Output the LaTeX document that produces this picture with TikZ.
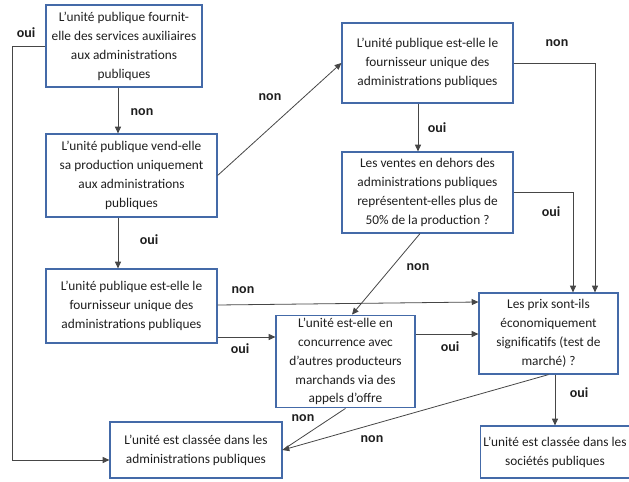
\documentclass[tikz,border=0pt]{standalone}
\usepackage{fontspec}
\setmainfont{Carlito}
\usetikzlibrary{arrows.meta,calc}

\definecolor{boxblue}{RGB}{68,106,168}
\definecolor{linegray}{RGB}{70,70,70}
\definecolor{textgray}{RGB}{30,30,30}

\tikzset{
  qbox/.style={draw=boxblue,line width=0.9pt,align=center,inner sep=2pt,
    text=textgray,font=\fontsize{10}{14.2}\selectfont},
  arr/.style={draw=linegray,line width=0.6pt,-{Triangle[length=5pt,width=4.5pt]}},
  conn/.style={draw=linegray,line width=0.6pt},
  lbl/.style={font=\fontsize{10.5}{12}\selectfont\bfseries,text=textgray,inner sep=0pt}
}

\begin{document}
\begin{tikzpicture}[x=0.75pt,y=-0.75pt]
  \useasboundingbox (0,0) rectangle (629,482);

  % boxes
  \node[qbox,minimum width=156*0.75pt,minimum height=82*0.75pt] (fournit) at (124,46)
    {L'unité publique fournit-\\elle des services auxiliaires\\aux administrations\\publiques};
  \node[qbox,minimum width=171*0.75pt,minimum height=83*0.75pt] (vend) at (131.5,175.5)
    {L'unité publique vend-elle\\sa production uniquement\\aux administrations\\publiques};
  \node[qbox,minimum width=171*0.75pt,minimum height=80*0.75pt] (fournA) at (427.5,63)
    {L'unité publique est-elle le\\fournisseur\ unique des\\administrations publiques};
  \node[qbox,minimum width=171*0.75pt,minimum height=81*0.75pt] (ventes) at (427.5,192.5)
    {Les ventes en dehors des\\administrations publiques\\représentent-elles\ plus de\\50\% de la production ?};
  \node[qbox,minimum width=171*0.75pt,minimum height=74*0.75pt] (fournB) at (131.5,306)
    {L'unité publique est-elle le\\fournisseur\ unique des\\administrations publiques};
  \node[qbox,minimum width=139*0.75pt,minimum height=87*0.75pt] (concur) at (345.5,361.5)
    {L'unité est-elle en\\concurrence avec\\d'autres producteurs\\marchands via des\\appels d'offre};
  \node[qbox,minimum width=139*0.75pt,minimum height=81*0.75pt] (prix) at (548.5,333.5)
    {Les prix sont-ils\\économiquement\\significatifs (test de\\marché) ?};
  \node[qbox,minimum width=172*0.75pt,minimum height=56*0.75pt] (admin) at (196,450)
    {L'unité est classée dans les\\administrations publiques};
  \node[qbox,minimum width=144*0.75pt,minimum height=52*0.75pt] (societes) at (555,452)
    {L'unité est classée dans les\\sociétés publiques};

  % rails
  \coordinate (colA) at (118,0);
  \coordinate (colC) at (418,0);
  \coordinate (railL) at (12,0);

  % connectors
  \draw[arr] (fournit.south -| colA) -- (vend.north -| colA);
  \draw[arr] (fournit.west) -- (fournit.west -| railL) |- ($(admin.west)+(0,10)$);
  \draw[arr] (vend.east) -- (fournA.west);
  \draw[arr] (vend.south -| colA) -- (fournB.north -| colA);
  \draw[arr] (fournA.south -| colC) -- (ventes.north -| colC);
  \draw[arr] (fournA.east) -| ($(prix.north)+(46.5,0)$);
  \draw[arr] (ventes.east) -| ($(prix.north)+(24.5,0)$);
  \draw[arr] ($(ventes.south)+(-7.5,0)$) -- ($(concur.north)+(6.5,0)$);
  \draw[arr] ($(fournB.east)+(0,-1)$) -- ($(prix.west)+(0,-31.5)$);
  \draw[arr] ($(fournB.east)+(0,31)$) coordinate (eoui) -- (eoui -| concur.west);
  \draw[arr] ($(concur.east)+(0,-27.5)$) coordinate (foui) -- (foui -| prix.west);
  \draw[conn] (concur.south) -- (admin.east);
  \draw[arr] (prix.south) -- (admin.east);
  \draw[arr] ($(prix.south)+(6.5,0)$) coordinate (goui) -- (goui |- societes.north);

  % labels
  \node[lbl] (l1) at (26,33) {oui};
  \node[lbl] (l2) at (142,112) {non};
  \node[lbl] (l3) at (270,97) {non};
  \node[lbl] (l4) at (149,240) {oui};
  \node[lbl] (l5) at (437,128) {oui};
  \node[lbl] (l6) at (557,43) {non};
  \node[lbl] (l7) at (551,212) {oui};
  \node[lbl] (l8) at (418,267) {non};
  \node[lbl] (l9) at (243,290) {non};
  \node[lbl] (l10) at (240,349) {oui};
  \node[lbl] (l11) at (450,347) {oui};
  \node[lbl] (l12) at (303,418) {non};
  \node[lbl] (l13) at (372,439) {non};
  \node[lbl] (l14) at (579,393) {oui};
\end{tikzpicture}
\end{document}
